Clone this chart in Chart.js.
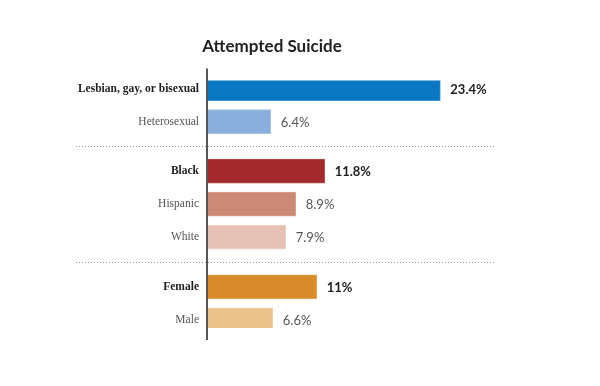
<!DOCTYPE html>
<html>
<head>
<meta charset="utf-8">
<script src="https://cdn.jsdelivr.net/npm/chart.js@4/dist/chart.umd.min.js"></script>
<style>
  html, body { margin: 0; padding: 0; background: #fff; }
  #wrap { width: 600px; height: 386px; position: relative; }
</style>
</head>
<body>
<div id="wrap"><canvas id="suicide-chart"></canvas></div>
<script>
// data
var categories = ['Lesbian, gay, or bisexual', 'Heterosexual', 'Black', 'Hispanic', 'White', 'Female', 'Male'];
var values = [23.4, 6.4, 11.8, 8.9, 7.9, 11, 6.6];
var groups = [0, 0, 1, 1, 1, 2, 2];

// styles
var barColors = ['#0a77c2', '#8bafdc', '#a4292b', '#cb8976', '#e6c0b2', '#d98b2a', '#ecc28b'];
var barEdges = ['#3d93d0', '#a6c3e6', '#b84c4d', '#d9a293', '#efd3c8', '#e3a353', '#f2d3aa'];

(function () {
  var canvas = document.getElementById('suicide-chart');

  function isLead(i) {
    return i === 0 || groups[i] !== groups[i - 1];
  }

  // one empty slot between rows of a group, two between groups
  var slotLabels = [];
  var slotValues = [];
  var slotColors = [];
  var slotEdges = [];
  var slotSource = [];
  var breaks = [];
  categories.forEach(function (name, i) {
    if (i > 0) {
      var gap = groups[i] === groups[i - 1] ? 1 : 2;
      if (gap === 2) {
        breaks.push(slotLabels.length + 0.5);
      }
      for (var k = 0; k < gap; k++) {
        slotLabels.push('');
        slotValues.push(null);
        slotColors.push('rgba(0,0,0,0)');
        slotEdges.push('rgba(0,0,0,0)');
        slotSource.push(-1);
      }
    }
    slotLabels.push(name);
    slotValues.push(values[i]);
    slotColors.push(barColors[i]);
    slotEdges.push(barEdges[i]);
    slotSource.push(i);
  });

  var decorations = {
    id: 'decorations',
    afterDatasetsDraw: function (chart) {
      var ctx = chart.ctx;
      var area = chart.chartArea;
      var yScale = chart.scales.y;
      ctx.save();

      // dotted separators between groups
      ctx.strokeStyle = '#9a9a9a';
      ctx.lineWidth = 1;
      ctx.setLineDash([1, 2]);
      breaks.forEach(function (b) {
        var y = Math.round(yScale.getPixelForValue(b)) + 0.5;
        ctx.beginPath();
        ctx.moveTo(76, y);
        ctx.lineTo(496, y);
        ctx.stroke();
      });
      ctx.setLineDash([]);

      // axis line
      ctx.strokeStyle = '#555';
      ctx.lineWidth = 2;
      ctx.beginPath();
      ctx.moveTo(area.left, area.top - 12);
      ctx.lineTo(area.left, area.bottom + 12);
      ctx.stroke();

      // value labels
      var meta = chart.getDatasetMeta(0);
      ctx.textBaseline = 'middle';
      ctx.textAlign = 'left';
      meta.data.forEach(function (bar, j) {
        var src = slotSource[j];
        if (src < 0) {
          return;
        }
        var lead = isLead(src);
        ctx.font = (lead ? 'bold ' : '') + '13px Lato';
        ctx.fillStyle = lead ? '#1e1e1e' : '#555';
        ctx.fillText(values[src] + '%', bar.x + 10, bar.y + 1);
      });
      ctx.restore();
    }
  };

  new Chart(canvas, {
    type: 'bar',
    data: {
      labels: slotLabels,
      datasets: [{
        data: slotValues,
        backgroundColor: slotColors,
        borderColor: slotEdges,
        borderWidth: 1,
        barThickness: 24,
      }],
    },
    plugins: [decorations],
    options: {
      indexAxis: 'y',
      responsive: true,
      maintainAspectRatio: false,
      animation: false,
      layout: { padding: { left: 0, right: 56, top: 0, bottom: 58 } },
      plugins: {
        legend: { display: false },
        tooltip: { enabled: false },
        title: {
          display: true,
          text: 'Attempted Suicide',
          color: '#222',
          font: { family: 'Lato', size: 17, weight: 'bold', lineHeight: 1.2 },
          padding: { top: 36, bottom: 24 },
        },
      },
      scales: {
        x: {
          display: false,
          min: 0,
          max: 33.8,
        },
        y: {
          offset: true,
          grid: { display: false, drawTicks: false },
          border: { display: false },
          afterFit: function (scale) {
            scale.width = 207;
          },
          ticks: {
            autoSkip: false,
            padding: 8,
            color: function (c) {
              var src = slotSource[c.index];
              return src >= 0 && isLead(src) ? '#1e1e1e' : '#555';
            },
            font: function (c) {
              var src = slotSource[c.index];
              var lead = src >= 0 && isLead(src);
              return { family: 'Liberation Serif', size: 11.5, weight: lead ? 'bold' : 'normal' };
            },
          },
        },
      },
    },
  });
})();
</script>
</body>
</html>
